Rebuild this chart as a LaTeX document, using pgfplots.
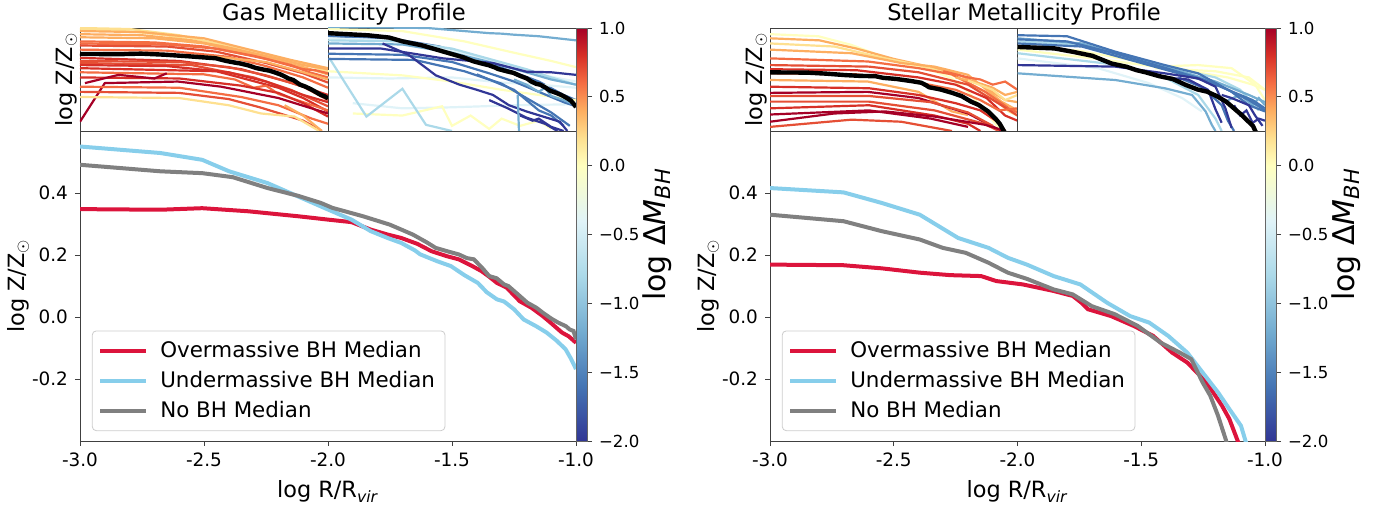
\documentclass[border=0pt]{standalone}
\usepackage{fontspec}
\setmainfont{DejaVu Sans}
\usepackage{pgfplots}
\usepackage{pgfplotstable}
\pgfplotsset{compat=1.18}

\definecolor{b1}{HTML}{313695}
\definecolor{b2}{HTML}{4575B4}
\definecolor{b3}{HTML}{74ADD1}
\definecolor{b4}{HTML}{ABD9E9}
\definecolor{b5}{HTML}{E0F3F8}
\definecolor{y0}{HTML}{FFFFBF}
\definecolor{r1}{HTML}{FEE090}
\definecolor{r2}{HTML}{FDAE61}
\definecolor{r3}{HTML}{F46D43}
\definecolor{r4}{HTML}{D73027}
\definecolor{r5}{HTML}{A50026}
\colorlet{r35}{r3!50!r4}
\definecolor{over}{RGB}{220,20,60}
\definecolor{under}{RGB}{135,206,235}
\definecolor{nobh}{RGB}{128,128,128}

\pgfplotsset{
  colormap={rdylbu}{rgb255(0cm)=(49,54,149); rgb255(4cm)=(69,117,180); rgb255(8cm)=(116,173,209);
    rgb255(12cm)=(171,217,233); rgb255(16cm)=(224,243,248); rgb255(20cm)=(255,255,191);
    rgb255(22cm)=(254,224,144); rgb255(24cm)=(253,174,97); rgb255(26cm)=(244,109,67);
    rgb255(28cm)=(215,48,39); rgb255(30cm)=(165,0,38)},
  base/.style={scale only axis, anchor=south west, xmin=-3, xmax=-1, ymin=-0.4, ymax=0.6,
    axis line style={line width=0.4pt, black!75}, tick style={line width=0.4pt, black!75},
    tick align=outside, major tick length=2.5pt, every axis plot/.append style={no markers}},
  inset/.style={base, width=124pt, height=51.5pt, xtick=\empty, ytick=\empty,
    every axis plot/.append style={line width=1.1pt}},
  mainax/.style={base, width=248pt, height=155pt,
    xtick={-3,-2.5,-2,-1.5,-1}, xticklabels={-3.0,-2.5,-2.0,-1.5,-1.0},
    ytick={-0.2,0,0.2,0.4}, yticklabels={-0.2,0.0,0.2,0.4},
    xtick pos=bottom, ytick pos=left,
    ticklabel style={font=\fontsize{9.2pt}{11pt}\selectfont},
    xlabel={log R/R\textsubscript{\textit{vir}}},
    ylabel={log Z/Z$_\odot$},
    label style={font=\fontsize{11.2pt}{13pt}\selectfont},
    ylabel style={at={([xshift=-31pt]axis description cs:0,0.5)}, anchor=center},
    every axis plot/.append style={line width=2pt},
    legend image code/.code={\draw[##1,line width=2pt] (0pt,0pt) -- (23pt,0pt);},
    legend cell align=left,
    legend style={at={(axis description cs:0.024,0.032)}, anchor=south west,
      font=\fontsize{10.7pt}{12.5pt}\selectfont, draw=black!20, rounded corners=2pt,
      fill=white, fill opacity=0.8, text opacity=1, inner xsep=3pt, inner ysep=3pt,
      row sep=1.5pt, /tikz/every odd column/.append style={column sep=4pt}}},
  insetlabel/.style={ylabel={log Z/Z$_\odot$},
    ylabel style={font=\fontsize{11.2pt}{13pt}\selectfont,
      at={([xshift=-7pt]axis description cs:0,0.5)}, anchor=center}},
  cbar/.style={scale only axis, anchor=south west, width=5.5pt, height=206.5pt, hide axis,
    xmin=0, xmax=1, ymin=0, ymax=1,
    colormap name=rdylbu, point meta min=-2, point meta max=1,
    colorbar, colorbar shift/.style={},
    colorbar style={at={(parent axis.south west)}, anchor=south west, width=5.5pt,
      ytick={-2,-1.5,-1,-0.5,0,0.5,1},
      yticklabels={−2.0,−1.5,−1.0,−0.5,0.0,0.5,1.0},
      yticklabel style={font=\fontsize{8.3pt}{10pt}\selectfont},
      ytick pos=right, yticklabel pos=right,
      major tick length=2.5pt, tick align=outside,
      tick style={line width=0.4pt, black!75},
      axis line style={line width=0.4pt, black!60},
      ylabel={log Δ\textit{M}\textsubscript{\textit{BH}}},
      ylabel style={font=\fontsize{15pt}{17pt}\selectfont, inner sep=0pt,
        at={([xshift=27.5pt]axis description cs:1,0.5)}, anchor=north}}}
}

% medians
\pgfplotstableread{
x y
-3.000 0.348
-2.676 0.346
-2.507 0.351
-2.321 0.341
-2.121 0.325
-1.998 0.314
-1.905 0.306
-1.828 0.282
-1.760 0.266
-1.705 0.255
-1.640 0.236
-1.582 0.212
-1.520 0.196
-1.473 0.186
-1.420 0.165
-1.381 0.148
-1.350 0.130
-1.319 0.110
-1.280 0.095
-1.227 0.051
-1.180 0.030
-1.134 0.003
-1.100 -0.020
-1.057 -0.050
-1.030 -0.062
-1.000 -0.083
}\gasover
\pgfplotstableread{
x y
-3.000 0.550
-2.676 0.529
-2.507 0.507
-2.399 0.470
-2.244 0.432
-2.121 0.389
-1.998 0.346
-1.905 0.314
-1.828 0.277
-1.760 0.255
-1.705 0.239
-1.650 0.215
-1.628 0.202
-1.560 0.180
-1.504 0.164
-1.450 0.135
-1.396 0.110
-1.360 0.080
-1.319 0.057
-1.290 0.050
-1.250 0.025
-1.211 -0.008
-1.160 -0.030
-1.119 -0.050
-1.080 -0.075
-1.042 -0.104
-1.020 -0.135
-1.000 -0.168
}\gasunder
\pgfplotstableread{
x y
-3.000 0.491
-2.676 0.470
-2.507 0.464
-2.384 0.451
-2.244 0.416
-2.121 0.391
-2.029 0.368
-1.982 0.352
-1.859 0.325
-1.751 0.298
-1.658 0.266
-1.600 0.240
-1.566 0.223
-1.510 0.210
-1.473 0.202
-1.440 0.190
-1.412 0.186
-1.380 0.160
-1.350 0.132
-1.320 0.125
-1.290 0.105
-1.273 0.100
-1.230 0.070
-1.196 0.046
-1.160 0.030
-1.134 0.014
-1.100 -0.005
-1.072 -0.018
-1.040 -0.030
-1.026 -0.040
-1.010 -0.045
-1.000 -0.072
}\gasnobh
\pgfplotstableread{
x y
-3.000 0.169
-2.703 0.167
-2.549 0.157
-2.395 0.143
-2.271 0.135
-2.147 0.132
-2.086 0.116
-1.978 0.105
-1.854 0.084
-1.777 0.068
-1.740 0.045
-1.715 0.025
-1.622 0.003
-1.530 -0.029
-1.452 -0.061
-1.375 -0.115
-1.314 -0.147
-1.236 -0.211
-1.174 -0.286
-1.144 -0.329
-1.113 -0.394
-1.100 -0.420
}\starover
\pgfplotstableread{
x y
-3.000 0.416
-2.703 0.402
-2.549 0.368
-2.395 0.330
-2.240 0.255
-2.117 0.223
-2.039 0.191
-1.962 0.169
-1.854 0.132
-1.746 0.105
-1.638 0.046
-1.545 0.003
-1.468 -0.018
-1.391 -0.061
-1.314 -0.115
-1.252 -0.179
-1.190 -0.243
-1.144 -0.297
-1.097 -0.351
-1.079 -0.399
-1.070 -0.420
}\starunder
\pgfplotstableread{
x y
-3.000 0.330
-2.703 0.309
-2.549 0.277
-2.395 0.250
-2.302 0.223
-2.209 0.207
-2.117 0.175
-2.039 0.143
-1.962 0.123
-1.854 0.089
-1.777 0.073
-1.700 0.035
-1.607 0.009
-1.514 -0.029
-1.421 -0.083
-1.344 -0.115
-1.298 -0.136
-1.252 -0.211
-1.221 -0.254
-1.190 -0.318
-1.159 -0.394
-1.150 -0.420
}\starnobh

\begin{document}
\begin{tikzpicture}
\path[use as bounding box] (0,0) rectangle (697pt,252pt);

\node[font=\fontsize{11.3pt}{13pt}\selectfont, anchor=base] at (172pt,241.5pt) {Gas Metallicity Profile};
\node[font=\fontsize{11.3pt}{13pt}\selectfont, anchor=base] at (512pt,241.5pt) {Stellar Metallicity Profile};

% ---------------- gas: overmassive inset
\begin{axis}[inset, insetlabel, at={(40pt,186.5pt)}]
\addplot[r1] coordinates {(-3,0.60) (-2.6,0.59) (-2.2,0.53) (-1.9,0.45) (-1.4,0.30) (-1,0.19)};
\addplot[r1] coordinates {(-3,0.58) (-2.7,0.58) (-2.3,0.53) (-1.9,0.43) (-1.5,0.33) (-1.2,0.26) (-1,0.17)};
\addplot[r2] coordinates {(-3,0.57) (-2.5,0.56) (-2.0,0.50) (-1.6,0.38) (-1.3,0.29) (-1.0,0.21)};
\addplot[r2] coordinates {(-3,0.54) (-2.5,0.53) (-2.1,0.48) (-1.8,0.41) (-1.4,0.30) (-1.2,0.24) (-1.1,0.22) (-1.0,0.20)};
\addplot[r2] coordinates {(-3,0.51) (-2.4,0.50) (-2.0,0.45) (-1.6,0.34) (-1.2,0.22) (-1,0.15)};
\addplot[r3] coordinates {(-3,0.47) (-2.4,0.46) (-2.0,0.42) (-1.6,0.33) (-1.3,0.24) (-1.15,0.17) (-1,0.12)};
\addplot[r3] coordinates {(-3,0.45) (-2.3,0.44) (-1.9,0.40) (-1.5,0.30) (-1.2,0.20) (-1.1,0.19) (-1.0,0.16)};
\addplot[r35] coordinates {(-3,0.43) (-2.3,0.42) (-1.9,0.37) (-1.5,0.26) (-1.2,0.16) (-1,0.07)};
\addplot[r3] coordinates {(-3,0.39) (-2.3,0.38) (-1.8,0.32) (-1.5,0.23) (-1.2,0.12) (-1,0.02)};
\addplot[r2] coordinates {(-3,0.35) (-2.3,0.34) (-1.9,0.32) (-1.5,0.27) (-1.2,0.17) (-1,0.10)};
\addplot[r4] coordinates {(-3,0.31) (-2.2,0.28) (-1.7,0.20) (-1.3,0.07) (-1,-0.05)};
\addplot[r35] coordinates {(-3,0.28) (-2.2,0.27) (-1.8,0.22) (-1.5,0.14) (-1.2,0.03) (-1,-0.10)};
\addplot[r35] coordinates {(-3,0.26) (-2.1,0.24) (-1.6,0.12) (-1.3,0.00) (-1,-0.16)};
\addplot[r4] coordinates {(-3,0.24) (-2.3,0.23) (-1.8,0.17) (-1.5,0.08) (-1.2,-0.05) (-1,-0.12)};
\addplot[r4] coordinates {(-3,0.21) (-1.9,0.18) (-1.4,0.02) (-1.2,-0.08) (-1,-0.21)};
\addplot[r3] coordinates {(-3,0.17) (-2.0,0.15) (-1.75,0.10) (-1.6,0.02) (-1.5,0.04) (-1.4,-0.04) (-1.25,-0.10) (-1,-0.20)};
\addplot[r4] coordinates {(-3,0.12) (-2.2,0.11) (-1.7,0.04) (-1.4,-0.03) (-1.2,-0.13) (-1,-0.26)};
\addplot[r5] coordinates {(-2.96,0.065) (-2.69,0.145) (-2.40,0.11) (-2.30,0.16)};
\addplot[r5] coordinates {(-3,-0.31) (-2.80,0.065) (-2.21,0.08) (-1.86,0.03) (-1.4,-0.08) (-1,-0.23)};
\addplot[r3] coordinates {(-3,0.03) (-2.2,0.02) (-1.7,-0.07) (-1.4,-0.15) (-1.13,-0.28) (-1,-0.33)};
\addplot[r35] coordinates {(-3,-0.02) (-2.2,-0.03) (-1.8,-0.09) (-1.55,-0.17) (-1.2,-0.30) (-1.05,-0.40)};
\addplot[r1] coordinates {(-3,-0.07) (-2.2,-0.08) (-1.8,-0.15) (-1.54,-0.23) (-1.27,-0.26) (-1.07,-0.40)};
\addplot[r2] coordinates {(-1.35,-0.15) (-1.2,-0.25) (-1.1,-0.35) (-1.05,-0.40)};
\addplot[black, line width=2.2pt] table {\gasover};
\end{axis}

% ---------------- gas: undermassive inset
\begin{axis}[inset, at={(164pt,186.5pt)}]
\addplot[y0] coordinates {(-3,0.59) (-2.4,0.57) (-1.9,0.47) (-1.5,0.36) (-1.2,0.28) (-1.0,0.22)};
\addplot[b3] coordinates {(-3,0.61) (-2.2,0.60) (-1.7,0.55) (-1.6,0.545) (-1.5,0.535) (-1.3,0.52) (-1.15,0.50) (-1.0,0.48)};
\addplot[b2] coordinates {(-3,0.52) (-2.5,0.50) (-2.1,0.42) (-1.8,0.30) (-1.5,0.17) (-1.3,0.08) (-1.1,-0.05) (-1.0,-0.10)};
\addplot[b5] coordinates {(-3,0.50) (-2.5,0.48) (-2.0,0.38) (-1.6,0.25) (-1.3,0.15) (-1,0.08)};
\addplot[b4] coordinates {(-3,0.48) (-2.4,0.47) (-2.0,0.40) (-1.7,0.30) (-1.4,0.20) (-1.2,0.12) (-1.0,0.05)};
\addplot[b3] coordinates {(-3,0.45) (-2.4,0.44) (-2.0,0.36) (-1.7,0.27) (-1.4,0.17) (-1.2,0.10) (-1.0,0.05)};
\addplot[b5] coordinates {(-3,0.12) (-2.5,0.11) (-2.0,0.12) (-1.6,0.07) (-1.3,0.05) (-1.0,0.02)};
\addplot[y0] coordinates {(-3,0.18) (-2.4,0.14) (-2.0,0.08) (-1.6,0.00) (-1.3,-0.05) (-1,-0.10)};
\addplot[b5] coordinates {(-2.8,-0.13) (-2.4,-0.18) (-2.0,-0.17) (-1.5,-0.15) (-1.0,-0.14)};
\addplot[y0] coordinates {(-2.8,-0.23) (-2.4,-0.25) (-2.08,-0.16) (-2.0,-0.35) (-1.85,-0.25) (-1.7,-0.38) (-1.6,-0.28) (-1.45,-0.35) (-1.3,-0.30) (-1.2,-0.38)};
\addplot[b4] coordinates {(-2.99,0.31) (-2.69,-0.26) (-2.40,0.01) (-2.21,-0.34) (-2.0,-0.40)};
\addplot[b2] coordinates {(-3,0.35) (-2.4,0.34) (-2.0,0.27) (-1.7,0.16) (-1.5,0.08) (-1.3,-0.02) (-1.1,-0.12) (-1,-0.16)};
\addplot[b2] coordinates {(-3,0.30) (-2.3,0.29) (-1.9,0.18) (-1.6,0.06) (-1.4,-0.08) (-1.2,-0.22) (-1.05,-0.35)};
\addplot[b2] coordinates {(-1.8,0.15) (-1.6,0.05) (-1.5,0.0) (-1.4,-0.10) (-1.3,-0.20) (-1.2,-0.25) (-1.1,-0.35)};
\addplot[b3] coordinates {(-1.5,0.10) (-1.4,0.05) (-1.3,-0.02) (-1.25,0.02) (-1.2,-0.06) (-1.1,-0.10) (-1.0,-0.15)};
\addplot[b1] coordinates {(-3,0.40) (-2.57,0.40) (-2.07,0.305) (-1.67,0.26) (-1.40,0.176) (-1.2,0.17) (-1,0.145)};
\addplot[b1] coordinates {(-2.56,0.45) (-2.35,0.34) (-2.13,0.14) (-1.94,0.05) (-1.80,0.0) (-1.67,-0.05) (-1.54,-0.15) (-1.40,-0.21) (-1.13,-0.31) (-1.07,-0.40)};
\addplot[b1] coordinates {(-1.7,-0.10) (-1.55,-0.18) (-1.4,-0.27) (-1.25,-0.33) (-1.15,-0.40)};
\addplot[b1] coordinates {(-1.45,-0.25) (-1.35,-0.30) (-1.3,-0.28) (-1.2,-0.36) (-1.1,-0.40)};
\addplot[b3] coordinates {(-1.47,-0.05) (-1.46,-0.40)};
\addplot[black, line width=2.2pt] table {\gasunder};
\end{axis}

% ---------------- gas: main panel
\begin{axis}[mainax, at={(40pt,31.5pt)}]
\addplot[over] table {\gasover};
\addlegendentry{Overmassive BH Median}
\addplot[under] table {\gasunder};
\addlegendentry{Undermassive BH Median}
\addplot[nobh] table {\gasnobh};
\addlegendentry{No BH Median}
\end{axis}

\begin{axis}[cbar, at={(288pt,31.5pt)}]
\end{axis}

% ---------------- stellar: overmassive inset
\begin{axis}[inset, insetlabel, at={(385pt,186.5pt)}, width=123.75pt]
\addplot[y0] coordinates {(-3,0.54) (-2.61,0.52) (-2.34,0.435) (-2.13,0.34) (-1.94,0.26) (-1.67,0.18) (-1.53,0.11) (-1.40,-0.02) (-1.26,-0.21) (-1.13,-0.40)};
\addplot[r2] coordinates {(-3,0.50) (-2.6,0.48) (-2.3,0.40) (-2.0,0.30) (-1.7,0.22) (-1.5,0.16) (-1.3,0.05) (-1.1,-0.10) (-1,-0.12)};
\addplot[r1] coordinates {(-3,0.45) (-2.48,0.42) (-2.07,0.305) (-1.80,0.24) (-1.53,0.145) (-1.26,-0.02) (-1.07,-0.21) (-1.0,-0.25)};
\addplot[r2] coordinates {(-3,0.39) (-2.34,0.355) (-1.94,0.26) (-1.67,0.225) (-1.40,0.145) (-1.13,-0.115) (-1.0,-0.20)};
\addplot[r3] coordinates {(-3,0.305) (-2.21,0.275) (-1.80,0.21) (-1.53,0.15) (-1.26,-0.02) (-1.07,-0.18) (-1,-0.22)};
\addplot[r35] coordinates {(-3,0.24) (-2.2,0.225) (-1.8,0.17) (-1.40,0.05) (-1.13,-0.15) (-1.0,-0.25)};
\addplot[r4] coordinates {(-3,0.20) (-2.3,0.19) (-1.8,0.12) (-1.5,0.05) (-1.25,-0.08) (-1.1,-0.25) (-1.0,-0.30)};
\addplot[r3] coordinates {(-3,0.16) (-2.3,0.15) (-1.8,0.07) (-1.5,0.0) (-1.3,-0.10) (-1.15,-0.20) (-1.0,-0.18)};
\addplot[r2] coordinates {(-3,0.095) (-2.21,0.08) (-1.80,-0.02) (-1.53,-0.21) (-1.40,-0.245)};
\addplot[r4] coordinates {(-3,0.03) (-2.2,0.015) (-1.8,-0.05) (-1.5,-0.13) (-1.3,-0.20) (-1.15,-0.32) (-1.1,-0.40)};
\addplot[r5] coordinates {(-3,-0.03) (-2.21,-0.02) (-1.8,-0.08) (-1.40,-0.23) (-1.13,-0.40)};
\addplot[r35] coordinates {(-3,-0.06) (-2.2,-0.06) (-1.7,-0.12) (-1.4,-0.22) (-1.2,-0.35)};
\addplot[r35] coordinates {(-3,-0.115) (-2.2,-0.115) (-1.67,-0.20) (-1.27,-0.33) (-1.15,-0.40)};
\addplot[r4] coordinates {(-3,-0.18) (-2.2,-0.15) (-1.67,-0.25) (-1.4,-0.33) (-1.3,-0.40)};
\addplot[r5] coordinates {(-3,-0.24) (-2.2,-0.20) (-1.7,-0.28) (-1.4,-0.36)};
\addplot[r5] coordinates {(-3,-0.31) (-2.48,-0.23) (-2.07,-0.21) (-1.67,-0.26) (-1.26,-0.34) (-1.1,-0.40)};
\addplot[r35] coordinates {(-3,-0.36) (-2.34,-0.29) (-1.94,-0.31) (-1.53,-0.40)};
\addplot[r3] coordinates {(-1.6,0.18) (-1.4,0.12) (-1.3,0.10) (-1.2,0.05) (-1.1,0.08) (-1.0,0.0)};
\addplot[r2] coordinates {(-1.5,0.12) (-1.3,0.06) (-1.2,0.02) (-1.1,-0.05) (-1.0,-0.02)};
\addplot[r1] coordinates {(-1.4,0.09) (-1.2,0.0) (-1.1,-0.10) (-1.0,-0.05)};
\addplot[black, line width=2.2pt] table {\starover};
\end{axis}

% ---------------- stellar: undermassive inset
\begin{axis}[inset, at={(508.75pt,186.5pt)}, width=123.75pt]
\addplot[y0] coordinates {(-3,0.39) (-2.35,0.30) (-1.89,0.225) (-1.54,0.24) (-1.27,0.21) (-1.08,0.05) (-1.0,-0.10)};
\addplot[y0] coordinates {(-1.89,0.21) (-1.40,0.18) (-1.13,0.12) (-1.0,0.0)};
\addplot[y0] coordinates {(-3,0.42) (-2.5,0.38) (-2.0,0.27) (-1.6,0.18) (-1.3,0.12) (-1.1,0.05) (-1.0,0.0)};
\addplot[b5] coordinates {(-3,0.305) (-2.35,0.21) (-1.94,0.065) (-1.67,-0.08) (-1.51,-0.21)};
\addplot[b4] coordinates {(-3,0.355) (-2.21,0.245) (-1.81,0.12) (-1.54,-0.05) (-1.40,-0.28) (-1.35,-0.40)};
\addplot[b4] coordinates {(-3,0.47) (-2.5,0.44) (-2.1,0.33) (-1.7,0.20) (-1.4,0.12) (-1.2,0.0) (-1.05,-0.20)};
\addplot[b3] coordinates {(-3,0.50) (-2.48,0.45) (-2.08,0.305) (-1.67,0.175) (-1.40,0.08) (-1.13,-0.05) (-1.0,-0.12)};
\addplot[b3] coordinates {(-3,0.16) (-2.21,0.095) (-1.81,0.015) (-1.59,-0.05) (-1.48,-0.21) (-1.43,-0.34) (-1.40,-0.40)};
\addplot[b3] coordinates {(-1.3,-0.10) (-1.2,-0.05) (-1.1,-0.15) (-1.05,-0.08) (-1.0,-0.15)};
\addplot[b2] coordinates {(-3,0.53) (-2.6,0.52) (-2.21,0.37) (-1.81,0.24) (-1.54,0.16) (-1.27,-0.02) (-1.13,-0.15) (-1.0,-0.21)};
\addplot[b2] coordinates {(-3,0.49) (-2.6,0.47) (-2.2,0.35) (-1.8,0.21) (-1.5,0.10) (-1.3,0.0) (-1.1,-0.10) (-1.0,-0.18)};
\addplot[b2] coordinates {(-3,0.45) (-2.48,0.42) (-1.94,0.24) (-1.40,0.06) (-1.13,-0.10) (-1.0,-0.20)};
\addplot[b2] coordinates {(-1.7,0.12) (-1.5,0.02) (-1.35,-0.15) (-1.3,-0.30) (-1.25,-0.40)};
\addplot[b1] coordinates {(-3,0.24) (-2.21,0.225) (-1.81,0.16) (-1.54,0.11) (-1.40,0.03) (-1.32,-0.18) (-1.27,-0.37)};
\addplot[b1] coordinates {(-1.81,0.12) (-1.62,0.10) (-1.46,0.0) (-1.40,-0.19) (-1.35,-0.32)};
\addplot[b1] coordinates {(-1.35,-0.05) (-1.27,-0.08) (-1.13,-0.15) (-1.08,-0.25) (-1.02,-0.35)};
\addplot[b1] coordinates {(-1.25,-0.15) (-1.2,-0.25) (-1.15,-0.20) (-1.1,-0.32) (-1.05,-0.28) (-1.0,-0.30)};
\addplot[black, line width=2.2pt] table {\starunder};
\end{axis}

% ---------------- stellar: main panel
\begin{axis}[mainax, at={(385pt,31.5pt)}, width=247.5pt]
\addplot[over] table {\starover};
\addlegendentry{Overmassive BH Median}
\addplot[under] table {\starunder};
\addlegendentry{Undermassive BH Median}
\addplot[nobh] table {\starnobh};
\addlegendentry{No BH Median}
\end{axis}

\begin{axis}[cbar, at={(632.5pt,31.5pt)}]
\end{axis}
\end{tikzpicture}
\end{document}
